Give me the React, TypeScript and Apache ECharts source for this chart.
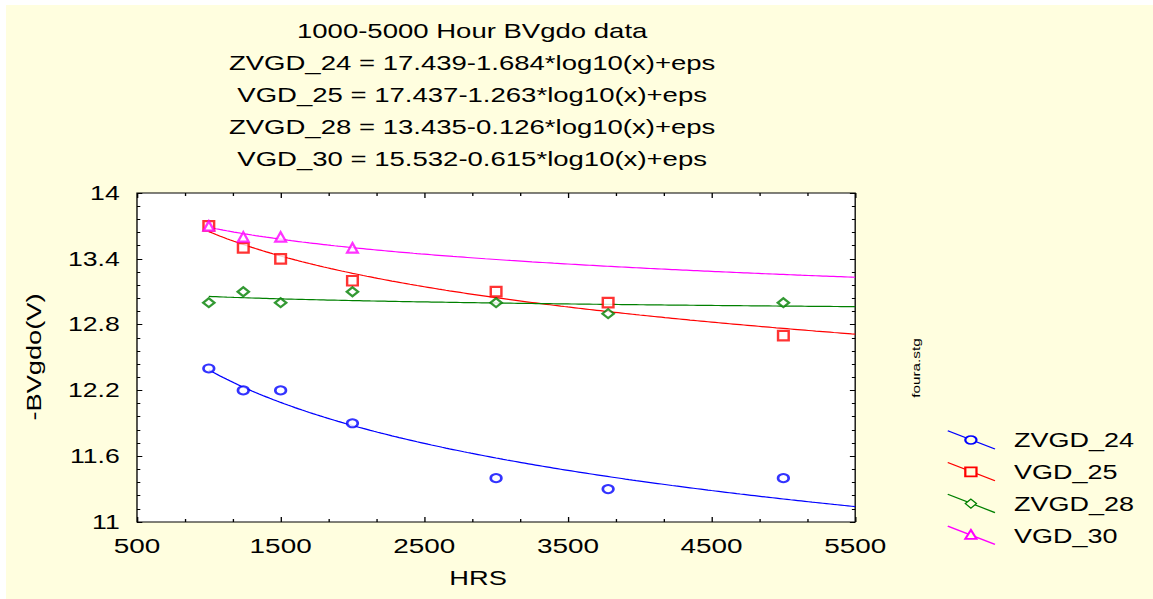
import React, { useEffect, useRef } from "react";
import * as echarts from "echarts";

// The drawing uses a wide type face look: it is laid out on a narrower
// canvas and stretched horizontally.
const STRETCH = 1.33;
const PAGE_W = 1153;
const PAGE_H = 599;
const INNER_W = PAGE_W / STRETCH;

const FONT = '"Liberation Sans", Arial, Helvetica, sans-serif';
const PAGE_BG = "#FFFEDF";

const chartTitle = "1000-5000 Hour BVgdo data";
const xAxisTitle = "HRS";
const yAxisTitle = "-BVgdo(V)";
const sourceTag = "foura.stg";

const seriesNames = ["ZVGD_24", "VGD_25", "ZVGD_28", "VGD_30"];
const seriesColors = ["#0000FF", "#FF0000", "#008000", "#FF00FF"];

// log10 fit coefficients: y = a - b*log10(x)
const fitIntercepts = [17.439, 17.437, 13.435, 15.532];
const fitSlopes = [1.684, 1.263, 0.126, 0.615];

// measured data (hours, -BVgdo in volts)
const hrsZVGD24 = [1000, 1240, 1500, 2000, 3000, 3780, 5000];
const valZVGD24 = [12.4, 12.2, 12.2, 11.9, 11.4, 11.3, 11.4];
const hrsVGD25 = [1000, 1240, 1500, 2000, 3000, 3780, 5000];
const valVGD25 = [13.7, 13.5, 13.4, 13.2, 13.1, 13.0, 12.7];
const hrsZVGD28 = [1000, 1240, 1500, 2000, 3000, 3780, 5000];
const valZVGD28 = [13.0, 13.1, 13.0, 13.1, 13.0, 12.9, 13.0];
const hrsVGD30 = [1000, 1240, 1500, 2000];
const valVGD30 = [13.7, 13.6, 13.6, 13.5];

const xTicks = [500, 1500, 2500, 3500, 4500, 5500];
const yTicks = [11, 11.6, 12.2, 12.8, 13.4, 14];
const fitStart = 1000;
const fitEnd = 5500;

function subdivide(ticks: number[], parts: number): number[] {
  const out: number[] = [];
  for (let i = 0; i < ticks.length - 1; i++) {
    const a = ticks[i];
    const b = ticks[i + 1];
    for (let k = 1; k < parts; k++) out.push(+(a + ((b - a) * k) / parts).toFixed(4));
  }
  return out;
}

function pairs(xs: number[], ys: number[]) {
  return xs.map((x, i) => [x, ys[i]]);
}

function fitCurve(i: number) {
  const pts: number[][] = [];
  for (let x = fitStart; x <= fitEnd; x += 25) {
    pts.push([x, fitIntercepts[i] - fitSlopes[i] * Math.log10(x)]);
  }
  return pts;
}

function buildOption(): echarts.EChartsOption {
  const grid = { left: 103, top: 193, width: 540, height: 329 };
  const xMinor = subdivide(xTicks, 3);
  const yMinor = subdivide(yTicks, 5);
  const text = { color: "#000", fontFamily: FONT };
  const plain = (v: number) => String(+v.toFixed(2));

  const xBase = { type: "value" as const, min: xTicks[0], max: xTicks[xTicks.length - 1], axisLine: { show: false }, splitLine: { show: false } };
  const yBase = { type: "value" as const, min: yTicks[0], max: yTicks[yTicks.length - 1], axisLine: { show: false }, splitLine: { show: false } };
  const tick = (values: number[], length: number) => ({
    show: true,
    inside: true,
    length,
    customValues: values,
    lineStyle: { color: "#000", width: 1 },
  });

  const titleLines = [chartTitle].concat(
    seriesNames.map((n, i) => `${n} = ${fitIntercepts[i].toFixed(3)}-${fitSlopes[i].toFixed(3)}*log10(x)+eps`)
  );

  const data = [
    pairs(hrsZVGD24, valZVGD24),
    pairs(hrsVGD25, valVGD25),
    pairs(hrsZVGD28, valZVGD28),
    pairs(hrsVGD30, valVGD30),
  ];
  const symbols = ["emptyCircle", "emptyRect", "emptyDiamond", "emptyTriangle"];
  const symbolSizes = [[8, 8], [8, 9.5], [8.5, 9], [8, 9.5]];
  const symbolWidths = [1.7, 1.7, 1.1, 1.7];

  const series: any[] = [];
  seriesNames.forEach((name, i) => {
    series.push({
      name: name + " fit",
      type: "line",
      data: fitCurve(i),
      showSymbol: false,
      silent: true,
      z: 2,
      lineStyle: { color: seriesColors[i], width: 1.2 },
    });
  });
  seriesNames.forEach((name, i) => {
    series.push({
      name,
      type: "scatter",
      data: data[i],
      symbol: symbols[i],
      symbolSize: symbolSizes[i],
      silent: true,
      z: 3,
      itemStyle: { color: seriesColors[i], borderColor: seriesColors[i], borderWidth: symbolWidths[i] },
    });
  });

  // legend drawn as line + marker + label
  const legendElements: any[] = [];
  seriesNames.forEach((name, i) => {
    const cy = 440 + 31.8 * i;
    const mx = 730;
    const c = seriesColors[i];
    legendElements.push({
      type: "line",
      shape: { x1: 712.6, y1: cy - 9.3, x2: 748.1, y2: cy + 9 },
      style: { stroke: c, lineWidth: 1.2 },
      z: 10,
    });
    const markerStyle = { stroke: c, fill: PAGE_BG, lineWidth: i === 2 ? 1.1 : 1.7 };
    if (i === 0) {
      legendElements.push({ type: "ellipse", shape: { cx: mx, cy, rx: 4.2, ry: 4 }, style: markerStyle, z: 11 });
    } else if (i === 1) {
      legendElements.push({ type: "rect", shape: { x: mx - 4.2, y: cy - 4.5, width: 8.4, height: 9 }, style: markerStyle, z: 11 });
    } else if (i === 2) {
      legendElements.push({
        type: "polygon",
        shape: { points: [[mx, cy - 4.5], [mx + 4.2, cy], [mx, cy + 4.5], [mx - 4.2, cy]] },
        style: markerStyle,
        z: 11,
      });
    } else {
      legendElements.push({
        type: "polygon",
        shape: { points: [[mx, cy - 5.5], [mx + 4.2, cy + 3.5], [mx - 4.2, cy + 3.5]] },
        style: markerStyle,
        z: 11,
      });
    }
    legendElements.push({
      type: "text",
      x: 762.4,
      y: cy,
      style: { text: name, fontSize: 20.3, fill: "#000", fontFamily: FONT, align: "left", verticalAlign: "middle" },
      z: 11,
    });
  });

  // rotated texts keep the wide letter shape along their own direction
  const rotatedText = (str: string, x: number, y: number, size: number) => ({
    type: "text",
    x,
    y,
    rotation: Math.PI / 2,
    scaleX: STRETCH,
    scaleY: 1 / STRETCH,
    style: { text: str, fontSize: size, fill: "#000", fontFamily: FONT, align: "center", verticalAlign: "middle" },
    z: 10,
  });

  return {
    animation: false,
    backgroundColor: "transparent",
    title: {
      text: titleLines.join("\n"),
      left: 350,
      top: 10,
      textAlign: "center",
      textStyle: { ...text, fontSize: 20.7, fontWeight: "normal", lineHeight: 32 },
    },
    grid: { ...grid, show: true, borderColor: "#000", borderWidth: 1, backgroundColor: "#FFFFFF", containLabel: false },
    xAxis: [
      {
        ...xBase,
        position: "bottom",
        axisTick: tick(xTicks, 5),
        axisLabel: { ...text, customValues: xTicks, fontSize: 21, margin: 13, formatter: plain },
        name: xAxisTitle,
        nameLocation: "middle",
        nameGap: 45,
        nameTextStyle: { ...text, fontSize: 20.5, padding: [0, 27, 0, 0] },
      },
      { ...xBase, position: "bottom", axisTick: tick(xMinor, 3), axisLabel: { show: false } },
      { ...xBase, position: "top", axisTick: tick(xTicks, 5), axisLabel: { show: false } },
      { ...xBase, position: "top", axisTick: tick(xMinor, 3), axisLabel: { show: false } },
    ],
    yAxis: [
      {
        ...yBase,
        position: "left",
        axisTick: tick(yTicks, 4),
        axisLabel: { ...text, customValues: yTicks, fontSize: 20, margin: 13, formatter: plain },
      },
      { ...yBase, position: "left", axisTick: tick(yMinor, 2.5), axisLabel: { show: false } },
      { ...yBase, position: "right", axisTick: tick(yTicks, 4), axisLabel: { show: false } },
      { ...yBase, position: "right", axisTick: tick(yMinor, 2.5), axisLabel: { show: false } },
    ],
    graphic: [
      {
        type: "rect",
        silent: true,
        z: -100,
        shape: { x: 6 / STRETCH, y: 5, width: INNER_W, height: PAGE_H },
        style: { fill: PAGE_BG },
      },
      rotatedText(yAxisTitle, 33.5 / STRETCH, 357, 20.5),
      rotatedText(sourceTag, 916.5 / STRETCH, 368, 11.5),
      ...legendElements,
    ],
    series,
  };
}

export default function App() {
  const ref = useRef<HTMLDivElement>(null);
  useEffect(() => {
    if (!ref.current) return;
    const chart = echarts.init(ref.current, null, { renderer: "svg" });
    chart.setOption(buildOption());
    return () => chart.dispose();
  }, []);
  return (
    <div style={{ position: "fixed", left: 0, top: 0, width: PAGE_W, height: PAGE_H, background: "#FFFFFF", overflow: "hidden" }}>
      <div
        ref={ref}
        style={{
          position: "absolute",
          left: 0,
          top: 0,
          width: INNER_W,
          height: PAGE_H,
          transform: `scaleX(${STRETCH})`,
          transformOrigin: "0 0",
        }}
      />
    </div>
  );
}
